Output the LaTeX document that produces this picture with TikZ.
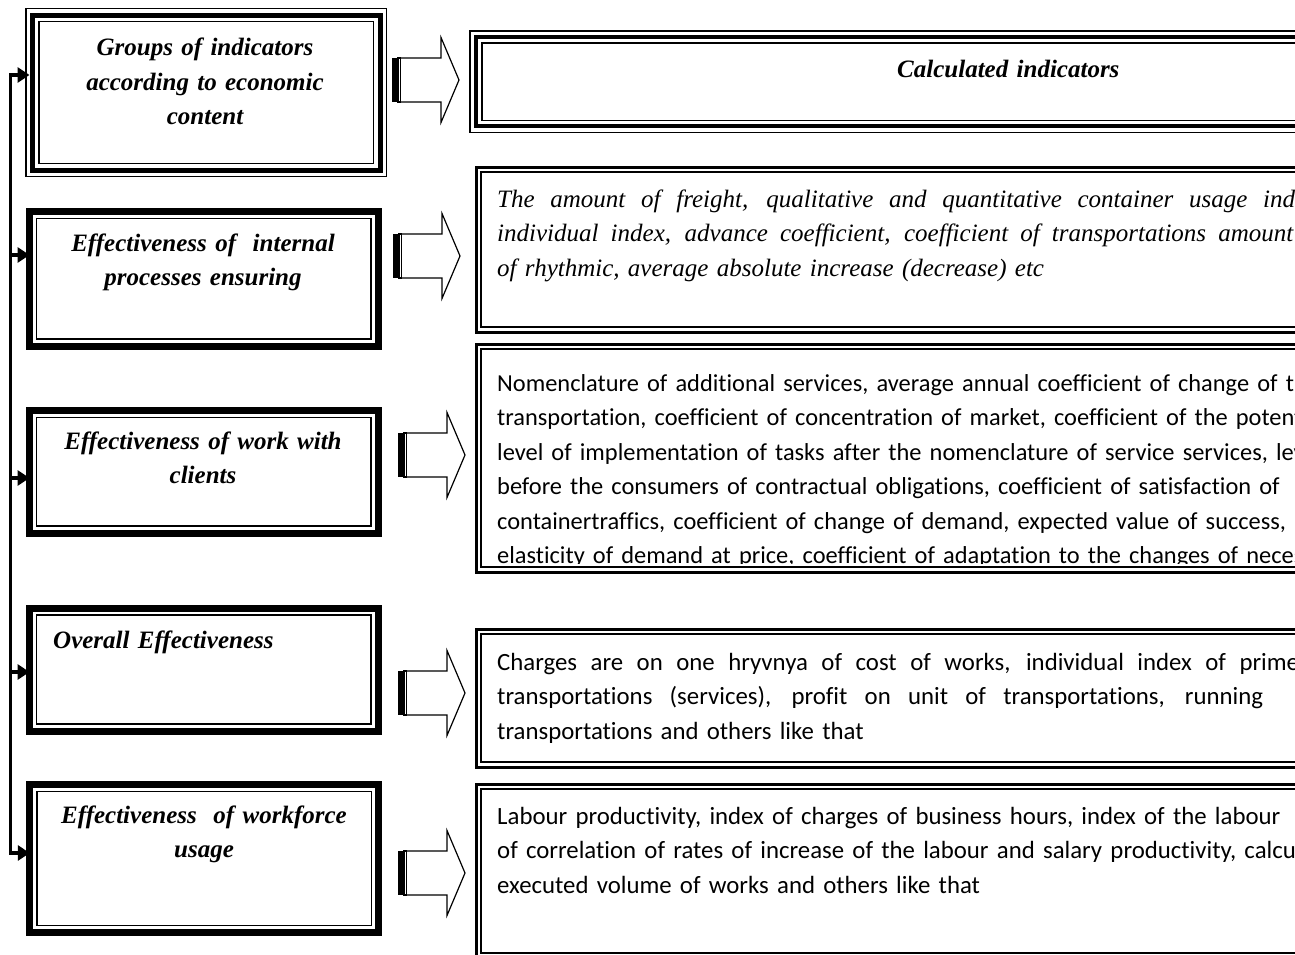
\documentclass[tikz,border=0pt]{standalone}
\usepackage{fontspec}
\setmainfont{Liberation Serif}
\newfontfamily\calibri[Ligatures=NoCommon]{Carlito}
\usetikzlibrary{arrows.meta,calc}

% a line whose word spaces are stretched to a given width
\newcommand{\spreadline}[2]{\leavevmode\hbox to #1{\spaceskip=\fontdimen2\font plus 1fil\relax #2}}

\tikzset{
  % framed boxes
  tribox/.style={draw, line width=5pt, outer sep=3pt,
    preaction={draw, double, line width=1.5pt, double distance=11.5pt}},
  calcbox/.style={draw, line width=4pt, outer sep=0pt,
    preaction={draw, double, line width=1.5pt, double distance=10.5pt}},
  heavybox/.style={draw, line width=7pt, outer sep=0pt},
  listbox/.style={draw, line width=3pt, outer sep=0pt},
  % texts
  lefttext/.style={font=\fontsize{25}{34.5}\selectfont\bfseries\itshape,
    text width=330pt, align=center, inner sep=0pt, anchor=base},
  italtext/.style={font=\fontsize{25}{34.5}\selectfont\itshape,
    text width=1000pt, align=left, inner sep=0pt, anchor=base west},
  listtext/.style={font=\calibri\fontsize{24.8}{34.5}\selectfont,
    text width=1000pt, align=left, inner sep=0pt, anchor=base west},
  >={Triangle[length=12pt,width=15pt]},
  feed/.style={line width=3.5pt},
  stripearrow/.pic={
    \fill (0,-22) rectangle (4.5,22);
    \draw[line width=1.2pt] (6,-22) rectangle (8.5,22);
    \draw[line width=1.2pt, line join=miter] (8.5,-22) -- (49,-22) -- (49,-42.5)
      -- (67,0) -- (49,42.5) -- (49,22) -- (8.5,22);
  }
}

\begin{document}
\begin{tikzpicture}[x=1pt, y=-1pt]
\useasboundingbox (0,0) rectangle (1295,955);
\clip (0,0) rectangle (1295,955);

% left column
\node[tribox, minimum width=347.5pt, minimum height=155pt] (grp) at (206.25,92.65) {};
\node[heavybox, minimum width=348.5pt, minimum height=134.5pt] (intproc) at (203.75,278.75) {};
\node[heavybox, minimum width=348.5pt, minimum height=122.5pt] (clients) at (203.75,471.75) {};
\node[heavybox, minimum width=348.5pt, minimum height=123pt] (overall) at (203.75,669.5) {};
\node[heavybox, minimum width=348.5pt, minimum height=148pt] (workforce) at (204,858.5) {};

% right column
\node[calcbox, minimum width=844pt, minimum height=89.5pt] (calc) at (898,81.75) {};
\node[listbox, minimum width=844pt, minimum height=165pt] (freight) at (898,249.5) {};
\node[listbox, minimum width=844pt, minimum height=228pt] (nomencl) at (898,458) {};
\node[listbox, minimum width=844pt, minimum height=138pt] (charges) at (898,698) {};
\node[listbox, minimum width=844pt, minimum height=174pt] (labour) at (898,871) {};

\foreach \n in {intproc, clients, overall, workforce}
  \draw[line width=1.5pt] ([shift={(7,7)}]\n.north west) rectangle ([shift={(-7,-7)}]\n.south east);
\foreach \n in {freight, nomencl, charges, labour}
  \draw[line width=1.2pt] ([shift={(5,5)}]\n.north west) rectangle ([shift={(-5,-5)}]\n.south east);

% texts
\node[lefttext] (grptxt) at (205,56) {Groups of indicators\\according to economic\\content};
\node[lefttext] (intproctxt) at (203,251) {Effectiveness of\ \ internal\\processes ensuring};
\node[lefttext] (clientstxt) at (203,449) {Effectiveness of work with\\clients};
\node[lefttext, anchor=base west, align=left] (overalltxt) at (53,648) {Overall Effectiveness};
\node[lefttext] (workforcetxt) at (204,823) {Effectiveness\ \ of workforce\\usage};
\node[lefttext, anchor=base west, align=left] (calctxt) at (897,78) {Calculated indicators};

\node[italtext] (freighttxt) at (497,207)
  {\spreadline{843pt}{The amount of freight, qualitative and quantitative container usage indices,}\\
   \spreadline{796pt}{individual index, advance coefficient, coefficient of transportations amount}\\
   of rhythmic, average absolute increase (decrease) etc};
\begin{scope}
  \clip (481,349) rectangle (1295,563);
  \node[listtext, font=\calibri\fontsize{24.4}{34.5}\selectfont] (nomencltxt) at (497,391)
    {Nomenclature of additional services, average annual coefficient of change of the\\
     transportation, coefficient of concentration of market, coefficient of the potential\\
     level of implementation of tasks after the nomenclature of service services, level\\
     before the consumers of contractual obligations, coefficient of satisfaction of\\
     containertraffics, coefficient of change of demand, expected value of success,\\
     elasticity of demand at price, coefficient of adaptation to the changes of necessity};
\end{scope}
\node[listtext] (chargestxt) at (497,670)
  {\spreadline{802pt}{Charges are on one hryvnya of cost of works, individual index of prime}\\
   \spreadline{766pt}{transportations (services), profit on unit of transportations, running}\\
   transportations and others like that};
\node[listtext] (labourtxt) at (497,824)
  {Labour productivity, index of charges of business hours, index of the labour\\
   of correlation of rates of increase of the labour and salary productivity, calculated\\
   executed volume of works and others like that};

% block arrows
\pic at (392,80) {stripearrow};
\pic at (393,256) {stripearrow};
\pic at (398,455) {stripearrow};
\pic at (398,693) {stripearrow};
\pic at (398,873) {stripearrow};

% feed line on the left
\coordinate (top) at (10.5,75);
\coordinate (bot) at (10.5,853);
\draw[feed, <->] (top -| grp.west) -- (top) -- (bot) -- (bot -| workforce.west);
\foreach \n/\yy in {intproc/255, clients/478, overall/672} {
  \coordinate (j) at (10.5,\yy);
  \draw[feed, ->] (j) -- (j -| \n.west);
}
\end{tikzpicture}
\end{document}
